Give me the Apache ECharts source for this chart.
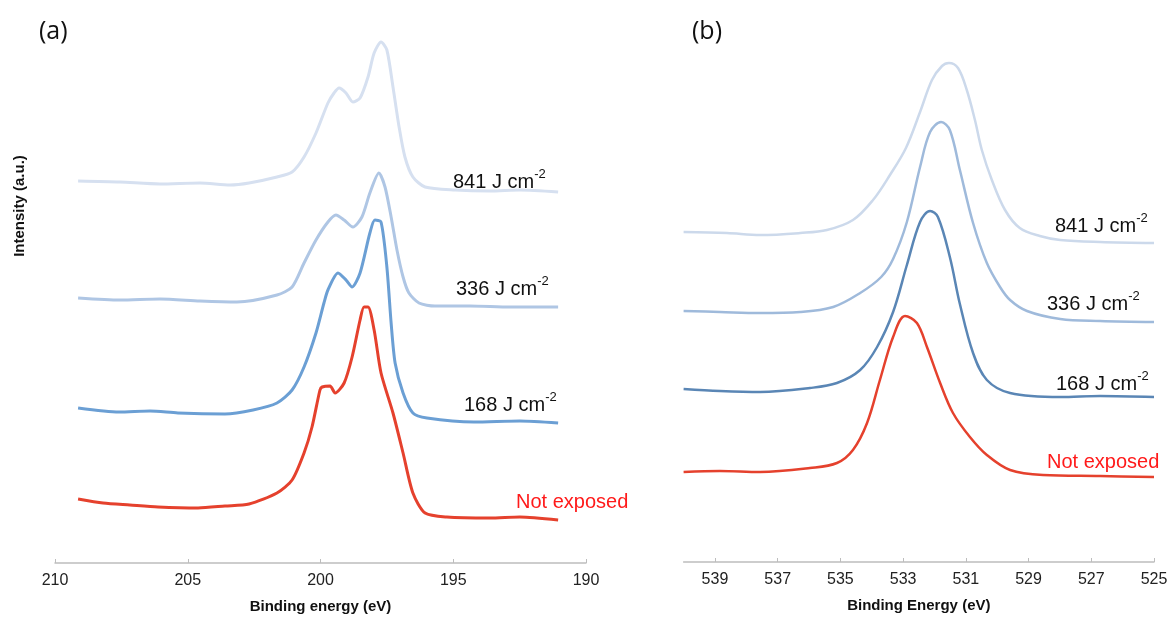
<!DOCTYPE html>
<html>
<head>
<meta charset="utf-8">
<script src="https://cdn.jsdelivr.net/npm/echarts@6/dist/echarts.min.js"></script>
<style>
  html,body{margin:0;padding:0;background:#fff;}
  #chart{width:1169px;height:617px;}
</style>
</head>
<body>
<div id="chart"></div>
<script>
  // panel (a) - binding energy (eV), intensity (a.u., offset)
  var a841 = [[209.13,76.4],[207.55,76.2],[206.05,75.8],[204.54,76.0],[203.41,75.6],[202.69,76.0],[201.64,77.2],[201.07,78.2],[200.62,81.2],[200.17,86.0],[199.72,92.0],[199.49,94.0],[199.30,95.0],[199.04,94.0],[198.78,92.2],[198.51,93.0],[198.21,97.2],[197.98,102.0],[197.72,104.2],[197.50,102.6],[197.27,95.2],[197.04,87.2],[196.82,81.2],[196.52,77.2],[196.06,75.2],[194.93,74.6],[193.62,74.4],[192.49,74.6],[191.05,74.2]]
  var a336 = [[209.13,53.0],[207.55,52.6],[206.05,52.8],[204.54,52.4],[203.15,52.2],[201.64,53.6],[201.07,55.2],[200.62,60.0],[200.17,64.6],[199.72,68.2],[199.42,69.6],[199.11,68.6],[198.78,67.2],[198.44,69.2],[198.14,74.0],[197.80,78.0],[197.57,75.2],[197.34,69.2],[197.12,62.6],[196.89,57.2],[196.67,54.0],[196.29,52.0],[195.69,51.4],[194.37,51.4],[192.86,51.2],[191.05,51.2]]
  var a168 = [[209.13,31.0],[207.59,30.2],[206.42,30.4],[205.37,30.0],[203.60,29.8],[202.54,30.6],[201.64,32.0],[201.07,34.6],[200.62,39.2],[200.17,46.0],[199.87,52.0],[199.72,54.6],[199.34,58.0],[199.04,56.6],[198.81,55.2],[198.51,58.0],[198.14,66.0],[197.95,68.6],[197.72,68.2],[197.50,59.2],[197.34,48.0],[197.19,40.0],[196.89,34.0],[196.52,30.0],[195.99,29.0],[194.22,28.2],[192.49,28.4],[191.05,28.0]]
  var a0 = [[209.13,12.8],[208.19,12.0],[207.18,11.6],[206.12,11.2],[204.61,11.0],[203.60,11.4],[202.69,11.8],[201.64,14.0],[201.07,16.6],[200.62,22.0],[200.32,27.2],[200.02,34.6],[199.94,35.2],[199.64,35.4],[199.45,34.0],[199.11,36.0],[198.81,41.2],[198.51,48.6],[198.36,51.2],[198.21,51.2],[197.98,46.6],[197.72,38.0],[197.27,30.0],[196.89,22.0],[196.52,14.0],[196.06,10.0],[195.24,9.2],[193.62,9.0],[192.49,9.2],[191.05,8.6]]

  // panel (b)
  var b841 = [[540.0,66.0],[538.62,65.8],[537.56,65.4],[536.28,65.8],[535.43,66.4],[534.60,68.4],[533.96,72.4],[533.42,77.4],[532.91,82.8],[532.46,90.0],[532.08,96.4],[531.76,99.2],[531.54,99.8],[531.25,98.8],[530.97,94.4],[530.71,88.4],[530.49,82.4],[530.17,76.4],[529.75,70.4],[529.28,66.8],[528.64,65.2],[527.99,64.4],[526.72,64.0],[525.0,63.8]]
  var b336 = [[540.0,50.2],[538.84,50.0],[537.56,49.8],[536.28,50.0],[535.23,51.0],[534.37,53.8],[533.70,57.0],[533.32,60.6],[532.88,68.0],[532.46,79.0],[532.14,86.0],[531.79,88.0],[531.51,86.4],[531.19,78.4],[530.77,67.8],[530.33,59.8],[529.91,55.0],[529.59,52.4],[529.05,50.2],[527.99,48.6],[526.72,48.2],[525.0,48.0]]
  var b168 = [[540.0,34.6],[538.84,34.2],[537.56,34.0],[535.97,34.8],[535.11,35.8],[534.37,38.4],[533.83,43.0],[533.32,50.0],[532.88,59.4],[532.46,68.0],[532.14,70.2],[531.89,69.0],[531.51,61.0],[531.19,51.6],[530.77,41.8],[530.33,36.4],[529.59,33.8],[527.99,33.0],[526.72,33.2],[525.0,33.0]]
  var b0 = [[540.0,18.0],[538.84,18.2],[537.56,18.0],[535.97,18.8],[535.11,19.8],[534.60,22.4],[534.15,27.8],[533.74,36.4],[533.32,45.0],[532.94,49.2],[532.56,47.8],[532.24,43.0],[531.82,35.8],[531.41,29.8],[530.87,25.0],[530.33,21.4],[529.59,18.4],[528.54,17.4],[526.72,17.2],[525.0,17.0]]

  var ticksB = [539,537,535,533,531,529,527,525]

  var colorsA = ['#d6e0f0','#afc6e4','#6b9fd4','#e5412d']
  var colorsB = ['#ccd9eb','#9fbadb','#5a86b5','#e5412d']

  var chart = echarts.init(document.getElementById('chart'))

  var font = 'Liberation Sans'
  var axisCommon = {
    type:'value',
    inverse:true,
    nameLocation:'middle',
    nameGap:36,
    nameTextStyle:{fontFamily:font,fontWeight:'bold',fontSize:15,color:'#111'},
    axisLine:{show:true,lineStyle:{color:'#bdbdbd',width:1.5}},
    axisTick:{show:true,inside:true,length:4,lineStyle:{color:'#bdbdbd'}},
    axisLabel:{fontFamily:font,fontSize:16,color:'#222',margin:10},
    splitLine:{show:false}
  }

  function lbl(x,y,num,color){
    return {
      type:'text', x:x, y:y,
      style:{
        text: num===null ? '{n|Not exposed}' : '{n|'+num+' J cm}{s|-2}',
        verticalAlign:'middle',
        rich:{
          n:{fontFamily:font,fontSize:20,fill:color,lineHeight:24,verticalAlign:'bottom'},
          s:{fontFamily:font,fontSize:13,fill:color,lineHeight:24,verticalAlign:'top'}
        }
      }
    }
  }

  function line(name,data,xi,color,w,sm){
    return {name:name,type:'line',xAxisIndex:xi,yAxisIndex:xi,data:data,showSymbol:false,smooth:sm,
      lineStyle:{color:color,width:w},itemStyle:{color:color}}
  }

  var option = {
    animation:false,
    backgroundColor:'#fff',
    grid:[
      {left:55,width:531,top:13,height:550,outerBoundsMode:'none'},
      {left:683.6,width:470.4,top:12,height:550,outerBoundsMode:'none'}
    ],
    xAxis:[
      Object.assign({},axisCommon,{gridIndex:0,min:190,max:210,interval:5,name:'Binding energy (eV)'}),
      Object.assign({},axisCommon,{gridIndex:1,min:525,max:540,name:'Binding Energy (eV)',
        axisTick:Object.assign({},axisCommon.axisTick,{customValues:ticksB}),
        axisLabel:Object.assign({},axisCommon.axisLabel,{customValues:ticksB})})
    ],
    yAxis:[
      {type:'value',gridIndex:0,min:0,max:110,show:false},
      {type:'value',gridIndex:1,min:0,max:110,show:false}
    ],
    series:[
      line('841',a841,0,colorsA[0],3,0.25),
      line('336',a336,0,colorsA[1],3,0.25),
      line('168',a168,0,colorsA[2],3,0.25),
      line('0',a0,0,colorsA[3],3,0.25),
      line('841',b841,1,colorsB[0],2.5,0.35),
      line('336',b336,1,colorsB[1],2.5,0.35),
      line('168',b168,1,colorsB[2],2.5,0.35),
      line('0',b0,1,colorsB[3],2.5,0.35)
    ],
    graphic:[
      {type:'text',x:39,y:32,style:{text:'(a)',fontFamily:'Open Sans',fontSize:25,fill:'#111',verticalAlign:'middle'}},
      {type:'text',x:692,y:32,style:{text:'(b)',fontFamily:'Open Sans',fontSize:25,fill:'#111',verticalAlign:'middle'}},
      {type:'text',x:20,y:206,rotation:Math.PI/2,style:{text:'Intensity (a.u.)',fontFamily:font,fontWeight:'bold',fontSize:15,fill:'#111',align:'center',verticalAlign:'middle'}},
      lbl(453,180,841,'#111'),
      lbl(456,287,336,'#111'),
      lbl(464,403,168,'#111'),
      lbl(516,500,null,'#ff1a1a'),
      lbl(1055,224,841,'#111'),
      lbl(1047,302,336,'#111'),
      lbl(1056,382,168,'#111'),
      lbl(1047,460,null,'#ff1a1a')
    ]
  }

  chart.setOption(option)
</script>
</body>
</html>
